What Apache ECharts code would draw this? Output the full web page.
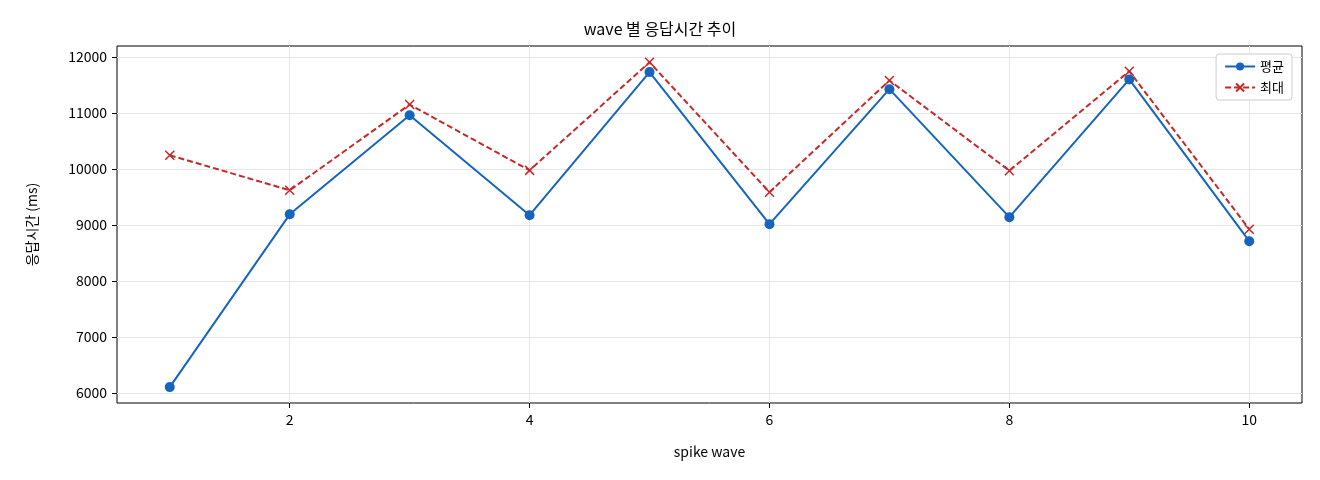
<!DOCTYPE html>
<html><head><meta charset="utf-8">
<script src="https://cdn.jsdelivr.net/npm/echarts@6/dist/echarts.min.js"></script>
<style>body{margin:0}#c{width:1320px;height:480px}</style></head>
<body><div id="c"></div>
<script>
const waves=[1,2,3,4,5,6,7,8,9,10];
const avgVals=[6105,9190,10960,9175,11730,9015,11425,9140,11600,8710];
const maxVals=[10245,9620,11150,9975,11905,9585,11580,9970,11745,8925];
const xTicks=[2,4,6,8,10];
const yTicks=[6000,7000,8000,9000,10000,11000,12000];
const font='"Noto Sans CJK KR","DejaVu Sans",sans-serif';
const X='path://M0,0L10,10M10,0L0,10';
const chart=echarts.init(document.getElementById('c'));
chart.setOption({
  animation:false,
  title:{text:'wave 별 응답시간 추이',left:'center',top:16,textStyle:{fontFamily:font,fontSize:16,fontWeight:'normal',color:'#000'}},
  legend:{right:28,top:54,orient:'vertical',itemGap:8,backgroundColor:'#fff',borderColor:'#ccc',borderWidth:1,borderRadius:3,padding:[6,8],
    textStyle:{fontFamily:font,fontSize:13,color:'#000'},itemWidth:30,itemHeight:10,
    data:['평균','최대']},
  grid:{left:117,right:18,top:46,bottom:77,show:true,borderColor:'#000',borderWidth:1,backgroundColor:'transparent'},
  xAxis:{type:'value',min:0.56,max:10.44,name:'spike wave',nameLocation:'middle',nameGap:42,
    nameTextStyle:{fontFamily:font,fontSize:14,color:'#000'},
    axisLine:{show:false},
    axisTick:{show:true,customValues:xTicks,length:5,lineStyle:{color:'#000'}},
    axisLabel:{customValues:xTicks,fontFamily:font,fontSize:14,color:'#000',margin:10},
    splitLine:{show:true,lineStyle:{color:'#e6e6e6'}}},
  yAxis:{type:'value',min:5821,max:12196,name:'응답시간 (ms)',nameLocation:'middle',nameGap:78,
    nameTextStyle:{fontFamily:font,fontSize:14,color:'#000'},
    axisLine:{show:false},
    axisTick:{show:true,customValues:yTicks,length:5,lineStyle:{color:'#000'}},
    axisLabel:{customValues:yTicks,formatter:v=>String(v),fontFamily:font,fontSize:14,color:'#000',margin:10},
    splitLine:{show:true,lineStyle:{color:'#e6e6e6'}}},
  series:[
    {name:'평균',type:'line',data:waves.map((w,i)=>[w,avgVals[i]]),symbol:'circle',symbolSize:10,
      lineStyle:{color:'#1565c0',width:2},itemStyle:{color:'#1565c0'}},
    {name:'최대',type:'line',data:waves.map((w,i)=>[w,maxVals[i]]),symbol:X,symbolSize:9,
      lineStyle:{color:'#c62828',width:2,type:[6,3]},itemStyle:{color:'none',borderColor:'#c62828',borderWidth:1.5}}
  ]
});
</script></body></html>
